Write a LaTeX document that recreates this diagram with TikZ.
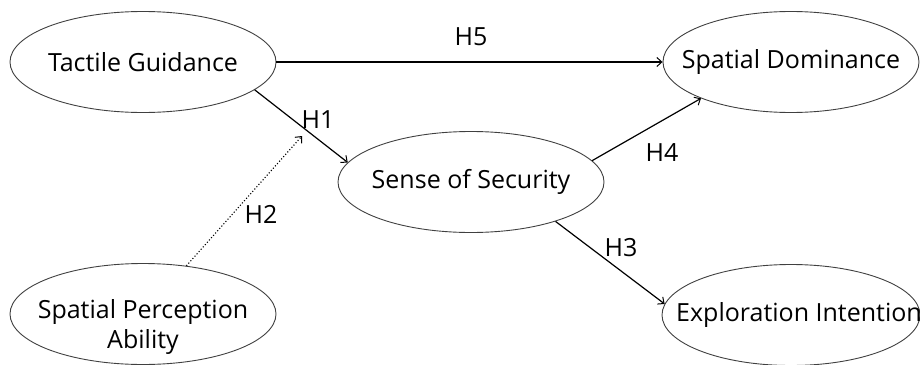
\documentclass[tikz,border=0pt]{standalone}
\usepackage{fontspec}
\setmainfont{Open Sans}
\usetikzlibrary{shapes.geometric,arrows.meta}
\newcommand{\zw}[1]{\makebox[0pt]{#1}}
\begin{document}
\begin{tikzpicture}[x=1pt,y=-1pt,
  ent/.style={ellipse,draw=black!75,line width=0.9pt,minimum width=266pt,minimum height=101pt,inner sep=0pt,font=\fontsize{25}{30}\selectfont},
  conn/.style={draw=black,line width=1.2pt,-{Straight Barb[length=5pt,width=9pt,line width=1pt]}},
  dconn/.style={draw=black,line width=1.1pt,dotted,-{Straight Barb[length=5pt,width=9pt,line width=1pt]}},
  hlab/.style={font=\fontsize{25}{30}\selectfont,inner sep=0pt}]
\useasboundingbox (0,0) rectangle (920,364);
\node[ent] (tg) at (143,62) {\zw{Tactile Guidance}};
\node[ent,minimum width=256pt] (sd) at (791,62) {\zw{Spatial Dominance}};
\node[ent] (ss) at (471,182) {\zw{Sense of Security}};
\node[ent] (spa) at (143,314) {\raisebox{-20pt}[0pt][0pt]{\zw{\begin{tabular}{@{}c@{}}Spatial Perception\\Ability\end{tabular}}}};
\node[ent,minimum width=258pt] (ei) at (791,315) {\zw{\hspace*{16pt}Exploration Intention}};
\coordinate (h2end) at (302,136);
\draw[conn] (tg) -- (sd);
\draw[conn] (tg.-14) -- (ss.171);
\draw[dconn] (spa.48) -- (h2end);
\draw[conn] (ss.10) -- (sd.202);
\draw[conn] (ss.-25) -- (ei.175);
\node[hlab] (h5) at (471,37) {H5};
\node[hlab] (h1) at (318,120) {H1};
\node[hlab] (h2) at (261,214) {H2};
\node[hlab] (h4) at (662,153) {H4};
\node[hlab] (h3) at (621,248) {H3};
\end{tikzpicture}
\end{document}
